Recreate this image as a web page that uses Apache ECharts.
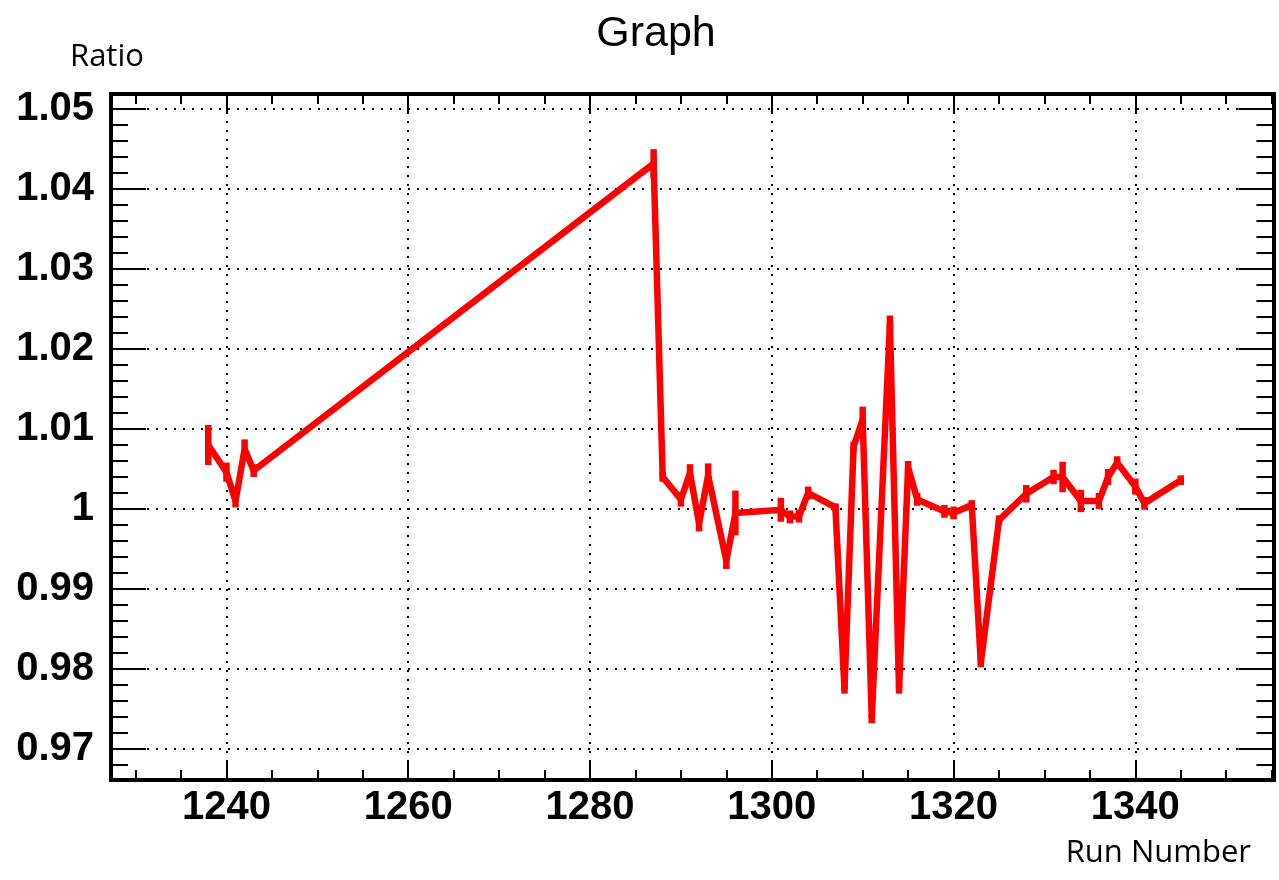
<!DOCTYPE html>
<html><head><meta charset="utf-8">
<script src="https://cdn.jsdelivr.net/npm/echarts@6/dist/echarts.min.js"></script>
<style>html,body{margin:0;padding:0;background:#fff}#c{width:1279px;height:880px}</style>
</head><body><div id="c"></div>
<script>
// ---- data ----
const runs   = [1238, 1240, 1241, 1242, 1243, 1287, 1288, 1290, 1291, 1292, 1293, 1295, 1296,
                1301, 1302, 1303, 1304, 1307, 1308, 1309, 1310, 1311, 1313, 1314, 1315, 1316,
                1319, 1320, 1322, 1323, 1325, 1328, 1331, 1332, 1334, 1336, 1337, 1338, 1340, 1341, 1345];
const ratios = [1.0080, 1.0046, 1.0010, 1.0075, 1.0048, 1.0432, 1.0040, 1.0012, 1.0045, 0.9982, 1.0042, 0.9935, 0.9995,
                0.9999, 0.9990, 0.9991, 1.0020, 1.0002, 0.9775, 1.0078, 1.0112, 0.9738, 1.0232, 0.9775, 1.0052, 1.0012,
                0.9997, 0.9995, 1.0005, 0.9808, 0.9986, 1.0019, 1.0040, 1.0040, 1.0010, 1.0010, 1.0040, 1.0058, 1.0028, 1.0007, 1.0036];
const errors = [0.0025, 0.0012, 0.0008, 0.0012, 0.0008, 0.0018, 0.0006, 0.0009, 0.0011, 0.0010, 0.0015, 0.0010, 0.0028,
                0.0015, 0.0008, 0.0008, 0.0008, 0.0005, 0.0006, 0.0006, 0.0016, 0.0006, 0.0010, 0.0006, 0.0008, 0.0008,
                0.0008, 0.0008, 0.0006, 0.0006, 0.0006, 0.0011, 0.0009, 0.0019, 0.0014, 0.0010, 0.0010, 0.0008, 0.0010, 0.0008, 0.0006];
const xMajorTicks = [1240, 1260, 1280, 1300, 1320, 1340];
const xTickLabels = ['1240', '1260', '1280', '1300', '1320', '1340'];
const yMajorTicks = [0.97, 0.98, 0.99, 1.00, 1.01, 1.02, 1.03, 1.04, 1.05];
const yTickLabels = ['0.97', '0.98', '0.99', '1', '1.01', '1.02', '1.03', '1.04', '1.05'];
const titleText = 'Graph';
const xTitle = 'Run Number';
const yTitle = 'Ratio';

// ---- axis ranges / minor ticks ----
const X_MIN = 1227.3, X_MAX = 1355.2;
const Y_MIN = 0.9661, Y_MAX = 1.0519;
const xMinorTicks = [];
for (let v = 1230; v <= 1355; v += 5) xMinorTicks.push(v);
const yMinorTicks = [];
for (let i = 484; i <= 525; i++) yMinorTicks.push(i * 2 / 1000);

const RED = '#ff0000';
const labelFont = {fontFamily: 'Liberation Sans', fontWeight: 'bold', fontSize: 40, color: '#000'};

function xFmt(v) {
  for (let i = 0; i < xMajorTicks.length; i++) if (Math.abs(v - xMajorTicks[i]) < 1e-6) return xTickLabels[i];
  return '';
}
function yFmt(v) {
  for (let i = 0; i < yMajorTicks.length; i++) if (Math.abs(v - yMajorTicks[i]) < 1e-9) return yTickLabels[i];
  return '';
}

function xAxisDef(pos, ticks, len, withLine, withLabels, withSplit) {
  return {
    type: 'value', position: pos, min: X_MIN, max: X_MAX, gridIndex: 0,
    axisLine: {show: withLine, onZero: false, lineStyle: {color: '#000', width: 4, cap: 'square'}},
    axisTick: {show: true, inside: true, length: len, customValues: ticks, lineStyle: {color: '#000', width: 2}},
    axisLabel: withLabels ? Object.assign({show: true, margin: 8, customValues: xMajorTicks, formatter: xFmt}, labelFont) : {show: false},
    splitLine: {show: withSplit, lineStyle: {color: '#000', width: 2, type: [2, 7]}},
    minorTick: {show: false}, minorSplitLine: {show: false}
  };
}
function yAxisDef(pos, ticks, len, withLine, withLabels, withSplit) {
  return {
    type: 'value', position: pos, min: Y_MIN, max: Y_MAX, gridIndex: 0,
    axisLine: {show: withLine, onZero: false, lineStyle: {color: '#000', width: 4, cap: 'square'}},
    axisTick: {show: true, inside: true, length: len, customValues: ticks, lineStyle: {color: '#000', width: 2}},
    axisLabel: withLabels ? Object.assign({show: true, margin: 17, customValues: yMajorTicks, formatter: yFmt}, labelFont) : {show: false},
    splitLine: {show: withSplit, lineStyle: {color: '#000', width: 2, type: [2, 7]}},
    minorTick: {show: false}, minorSplitLine: {show: false}
  };
}

const chart = echarts.init(document.getElementById('c'), null, {renderer: 'canvas'});
chart.setOption({
  backgroundColor: '#fff',
  animation: false,
  grid: {left: 111, right: 5.5, top: 94, bottom: 100, containLabel: false, outerBoundsMode: 'none'},
  xAxis: [
    xAxisDef('bottom', xMajorTicks, 20, true, true, true),
    xAxisDef('bottom', xMinorTicks, 10, false, false, false),
    xAxisDef('top', xMajorTicks, 20, true, false, false),
    xAxisDef('top', xMinorTicks, 10, false, false, false)
  ],
  yAxis: [
    yAxisDef('left', yMajorTicks, 35, true, true, true),
    yAxisDef('left', yMinorTicks, 17, false, false, false),
    yAxisDef('right', yMajorTicks, 35, true, false, false),
    yAxisDef('right', yMinorTicks, 17, false, false, false)
  ],
  series: [
    {
      type: 'line', xAxisIndex: 0, yAxisIndex: 0,
      data: runs.map((r, i) => [r, ratios[i]]),
      symbol: 'none', showSymbol: false, silent: true, z: 5,
      lineStyle: {color: RED, width: 6.5, join: 'miter', miterLimit: 3}
    },
    {
      type: 'custom', xAxisIndex: 0, yAxisIndex: 0, silent: true, z: 6,
      data: runs.map((r, i) => [r, ratios[i] - errors[i], ratios[i] + errors[i]]),
      encode: {x: 0, y: [1, 2]},
      renderItem: function (params, api) {
        const lo = api.coord([api.value(0), api.value(1)]);
        const hi = api.coord([api.value(0), api.value(2)]);
        return {type: 'line', shape: {x1: lo[0], y1: lo[1], x2: hi[0], y2: hi[1]},
                style: {stroke: RED, lineWidth: 6.5}};
      }
    }
  ],
  graphic: [
    {type: 'text', x: 656, y: 34, style: {text: titleText, font: '43px "Liberation Sans"', fill: '#000', align: 'center', verticalAlign: 'middle'}},
    {type: 'text', x: 70, y: 57, style: {text: yTitle, font: '31px "Open Sans"', fill: '#000', align: 'left', verticalAlign: 'middle'}},
    {type: 'text', x: 1251, y: 853, style: {text: xTitle, font: '31px "Open Sans"', fill: '#000', align: 'right', verticalAlign: 'middle'}}
  ]
});
</script></body></html>
